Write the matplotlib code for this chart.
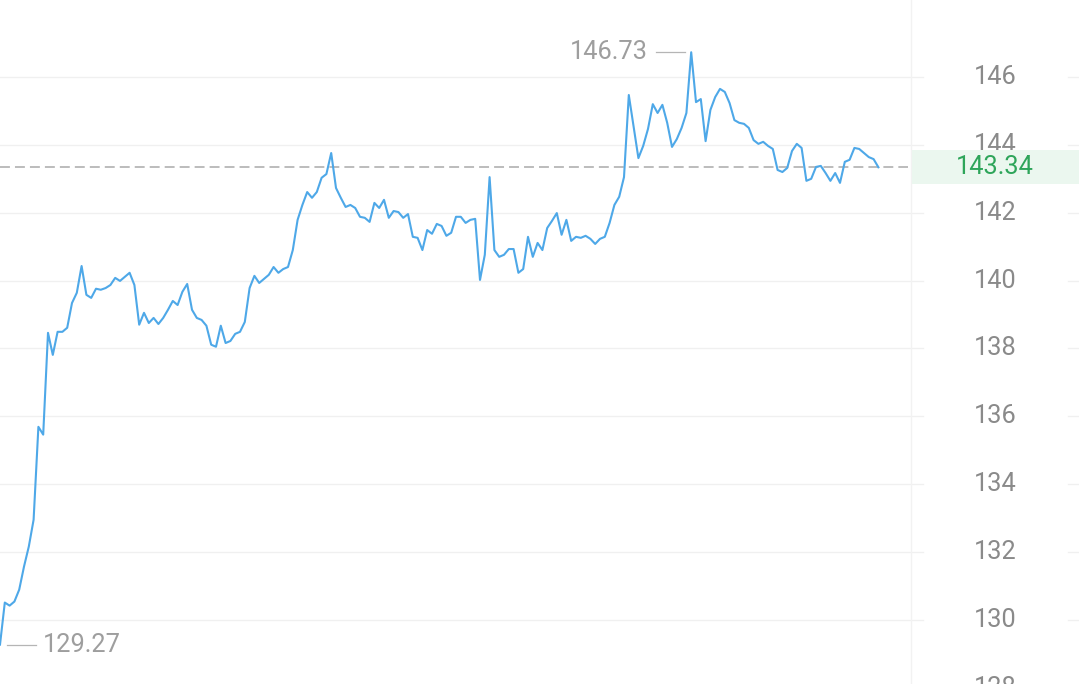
import matplotlib
matplotlib.use("Agg")
import matplotlib.pyplot as plt
import matplotlib.transforms as mtransforms
from matplotlib.patches import Rectangle
import numpy as np

# -----------------------------
# DATA
# -----------------------------
prices = [
    129.27, 130.51, 130.42, 130.54, 130.89, 131.57, 132.16, 132.95, 135.69, 135.46,
    138.46, 137.81, 138.49, 138.49, 138.61, 139.34, 139.64, 140.43, 139.58, 139.49,
    139.76, 139.73, 139.78, 139.87, 140.08, 139.99, 140.11, 140.23, 139.87,
    138.70, 139.05, 138.75, 138.90, 138.72, 138.90, 139.14, 139.40, 139.28, 139.67,
    139.90, 139.14, 138.90, 138.84, 138.67, 138.11, 138.05, 138.67, 138.16, 138.22,
    138.43, 138.49, 138.78, 139.78, 140.14, 139.93, 140.05, 140.17, 140.40, 140.23,
    140.34, 140.40, 140.90,
    141.79, 142.23, 142.61, 142.44, 142.61, 143.03, 143.14, 143.76, 142.73, 142.44,
    142.17, 142.23, 142.14, 141.88, 141.85, 141.73, 142.29, 142.14, 142.38, 141.85,
    142.05, 142.02, 141.85, 141.96, 141.29, 141.26, 140.90, 141.49, 141.38, 141.67,
    141.61, 141.32, 141.41,
    141.88, 141.88, 141.70, 141.79, 141.82, 140.02, 140.76, 143.05, 140.90, 140.70,
    140.76, 140.93, 140.93, 140.23, 140.34, 141.29, 140.70, 141.11, 140.90, 141.55,
    141.76, 141.99, 141.35, 141.79, 141.17, 141.29, 141.26, 141.32, 141.23, 141.08,
    141.23, 141.29, 141.70, 142.23, 142.47,
    143.05, 145.47, 144.53, 143.61, 143.97, 144.47, 145.20, 144.94, 145.18, 144.65,
    143.94, 144.17, 144.50, 144.94, 146.73, 145.26, 145.35, 144.11, 145.03, 145.41,
    145.65, 145.56, 145.23, 144.73, 144.65, 144.62, 144.50,
    144.14, 144.03, 144.09, 143.97, 143.88, 143.26, 143.20, 143.32, 143.82, 144.03,
    143.91, 142.94, 143.00, 143.35, 143.38, 143.17, 142.94, 143.17, 142.88, 143.50,
    143.56, 143.91, 143.88, 143.76, 143.64, 143.58, 143.34,
]
y_ticks = [128, 130, 132, 134, 136, 138, 140, 142, 144, 146]
last_price = 143.34
high_price = 146.73
low_price = 129.27

# -----------------------------
# LAYOUT
# -----------------------------
W, H = 1079, 684
step = 4.8          # pixels per sample
plot_right = 911    # right edge of the plot area (px)
fs = 18.3

plt.rcParams["font.family"] = ["Roboto", "DejaVu Sans"]

fig = plt.figure(figsize=(W / 100, H / 100), dpi=100)
ax = fig.add_axes([0, 0, 1, 1])
ax.set_xlim(0, W / step)
ax.set_ylim(128.11, 148.27)
ax.axis("off")

blend = mtransforms.blended_transform_factory(ax.transAxes, ax.transData)

# grid lines, broken where the right-hand labels sit
for v in y_ticks:
    ax.axhline(v, xmin=0, xmax=923 / W, color="#f0f0f0", lw=1, zorder=0)
    ax.axhline(v, xmin=1068 / W, xmax=1, color="#f0f0f0", lw=1, zorder=0)
    ax.text(995 / W, v, f"{v}", transform=blend, ha="center", va="center",
            fontsize=fs, color="#8a8a8a", zorder=2)

ax.axvline(plot_right / step, color="#f2f2f2", lw=1, zorder=0)

# price line
x = np.arange(len(prices))
ax.plot(x, prices, color="#4ea8e8", lw=1.5, zorder=3, solid_joinstyle="round")

# last price: dashed line + green tag
ax.plot([0, 908 / step], [last_price, last_price], color="#aaaaaa", lw=1.1,
        ls=(0, (6.5, 3.3)), zorder=2)
px_per_unit = H / (148.27 - 128.11)
half_h = 17 / px_per_unit
ax.add_patch(Rectangle((912 / W, last_price - half_h), 1 - 912 / W, 2 * half_h,
                       transform=blend, facecolor="#ebf7ef", edgecolor="none", zorder=4))
ax.text(995 / W, last_price, f"{last_price:.2f}", transform=blend, ha="center",
        va="center", fontsize=fs, color="#2ea55a", zorder=5)

# high / low markers
i_low = int(np.argmin(prices))
i_high = int(np.argmax(prices))
ax.plot([i_low + 7 / step, i_low + 36 / step], [low_price, low_price],
        color="#b5b5b5", lw=0.9, zorder=3)
ax.text(i_low + 43 / step, low_price, f"{low_price:.2f}", ha="left", va="center",
        fontsize=fs, color="#9e9e9e", zorder=3)
ax.plot([i_high - 35 / step, i_high - 6 / step], [high_price, high_price],
        color="#b5b5b5", lw=0.9, zorder=3)
ax.text(i_high - 43 / step, high_price, f"{high_price:.2f}", ha="right", va="center",
        fontsize=fs, color="#9e9e9e", zorder=3)

fig.savefig("out.png", dpi=100, facecolor="white")
